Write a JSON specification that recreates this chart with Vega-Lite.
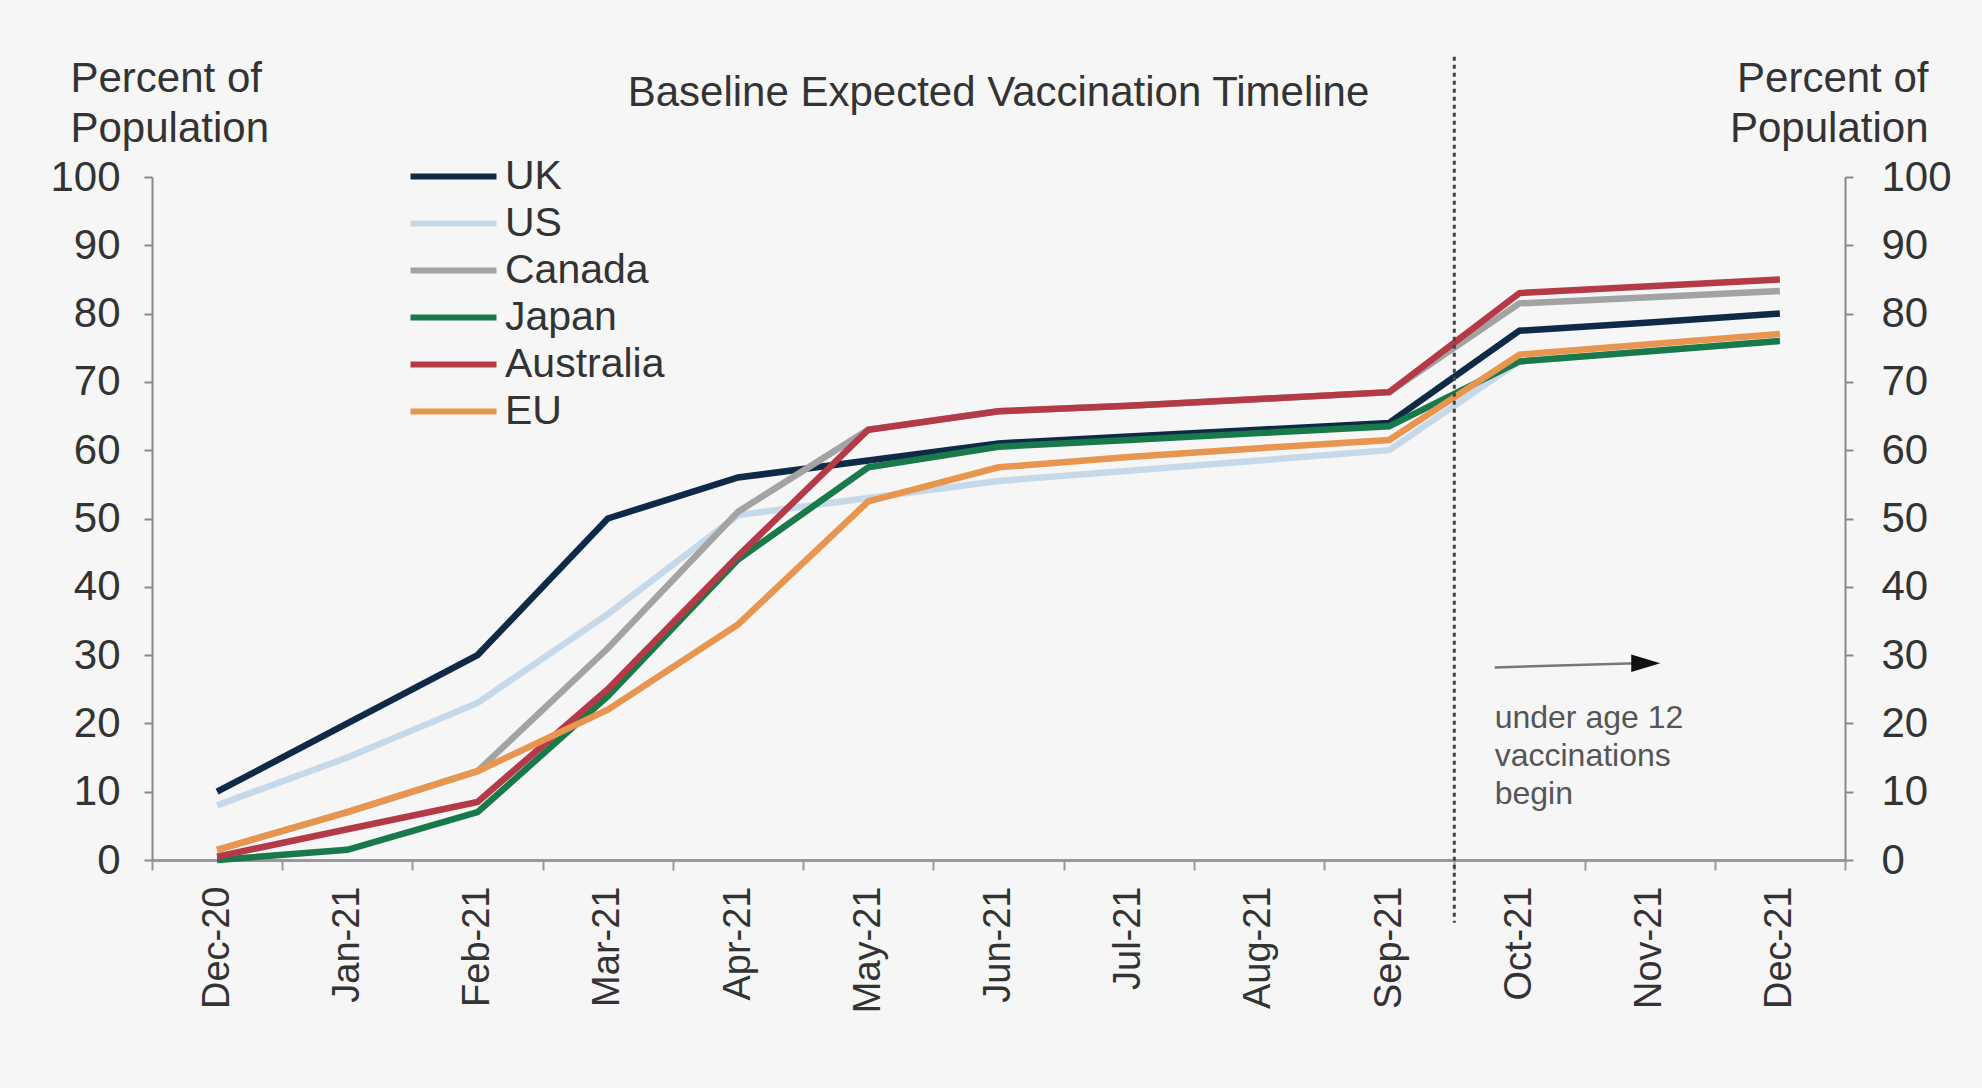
{
  "$schema": "https://vega.github.io/schema/vega-lite/v6.json",
  "width": 1693,
  "height": 683,
  "autosize": {"type": "none"},
  "padding": {"left": 152, "top": 177, "right": 137, "bottom": 228},
  "background": "#f6f6f6",
  "config": {"font": "Liberation Sans", "view": {"stroke": null}},
  "title": {
    "text": "Baseline Expected Vaccination Timeline",
    "fontSize": 42,
    "fontWeight": "normal",
    "color": "#333333",
    "anchor": "middle",
    "frame": "group",
    "offset": -60
  },
  "datasets": {
    "vaccination": [
      {"month": "Dec-20", "country": "UK", "pct": 10},
      {"month": "Jan-21", "country": "UK", "pct": 20},
      {"month": "Feb-21", "country": "UK", "pct": 30},
      {"month": "Mar-21", "country": "UK", "pct": 50},
      {"month": "Apr-21", "country": "UK", "pct": 56},
      {"month": "May-21", "country": "UK", "pct": 58.5},
      {"month": "Jun-21", "country": "UK", "pct": 61},
      {"month": "Jul-21", "country": "UK", "pct": 62},
      {"month": "Aug-21", "country": "UK", "pct": 63},
      {"month": "Sep-21", "country": "UK", "pct": 64},
      {"month": "Oct-21", "country": "UK", "pct": 77.5},
      {"month": "Nov-21", "country": "UK", "pct": 78.7},
      {"month": "Dec-21", "country": "UK", "pct": 80},
      {"month": "Dec-20", "country": "US", "pct": 8},
      {"month": "Jan-21", "country": "US", "pct": 15},
      {"month": "Feb-21", "country": "US", "pct": 23},
      {"month": "Mar-21", "country": "US", "pct": 36},
      {"month": "Apr-21", "country": "US", "pct": 50.5},
      {"month": "May-21", "country": "US", "pct": 53},
      {"month": "Jun-21", "country": "US", "pct": 55.5},
      {"month": "Jul-21", "country": "US", "pct": 57},
      {"month": "Aug-21", "country": "US", "pct": 58.5},
      {"month": "Sep-21", "country": "US", "pct": 60},
      {"month": "Oct-21", "country": "US", "pct": 73},
      {"month": "Nov-21", "country": "US", "pct": 74.5},
      {"month": "Dec-21", "country": "US", "pct": 76},
      {"month": "Dec-20", "country": "Canada", "pct": 1.5},
      {"month": "Jan-21", "country": "Canada", "pct": 7},
      {"month": "Feb-21", "country": "Canada", "pct": 13},
      {"month": "Mar-21", "country": "Canada", "pct": 31},
      {"month": "Apr-21", "country": "Canada", "pct": 51},
      {"month": "May-21", "country": "Canada", "pct": 63},
      {"month": "Jun-21", "country": "Canada", "pct": 65.7},
      {"month": "Jul-21", "country": "Canada", "pct": 66.5},
      {"month": "Aug-21", "country": "Canada", "pct": 67.5},
      {"month": "Sep-21", "country": "Canada", "pct": 68.5},
      {"month": "Oct-21", "country": "Canada", "pct": 81.5},
      {"month": "Nov-21", "country": "Canada", "pct": 82.4},
      {"month": "Dec-21", "country": "Canada", "pct": 83.3},
      {"month": "Dec-20", "country": "Japan", "pct": 0},
      {"month": "Jan-21", "country": "Japan", "pct": 1.5},
      {"month": "Feb-21", "country": "Japan", "pct": 7},
      {"month": "Mar-21", "country": "Japan", "pct": 24},
      {"month": "Apr-21", "country": "Japan", "pct": 44},
      {"month": "May-21", "country": "Japan", "pct": 57.5},
      {"month": "Jun-21", "country": "Japan", "pct": 60.5},
      {"month": "Jul-21", "country": "Japan", "pct": 61.5},
      {"month": "Aug-21", "country": "Japan", "pct": 62.5},
      {"month": "Sep-21", "country": "Japan", "pct": 63.5},
      {"month": "Oct-21", "country": "Japan", "pct": 73},
      {"month": "Nov-21", "country": "Japan", "pct": 74.5},
      {"month": "Dec-21", "country": "Japan", "pct": 76},
      {"month": "Dec-20", "country": "Australia", "pct": 0.5},
      {"month": "Jan-21", "country": "Australia", "pct": 4.5},
      {"month": "Feb-21", "country": "Australia", "pct": 8.5},
      {"month": "Mar-21", "country": "Australia", "pct": 25},
      {"month": "Apr-21", "country": "Australia", "pct": 44.5},
      {"month": "May-21", "country": "Australia", "pct": 63},
      {"month": "Jun-21", "country": "Australia", "pct": 65.7},
      {"month": "Jul-21", "country": "Australia", "pct": 66.5},
      {"month": "Aug-21", "country": "Australia", "pct": 67.5},
      {"month": "Sep-21", "country": "Australia", "pct": 68.5},
      {"month": "Oct-21", "country": "Australia", "pct": 83},
      {"month": "Nov-21", "country": "Australia", "pct": 84},
      {"month": "Dec-21", "country": "Australia", "pct": 85},
      {"month": "Dec-20", "country": "EU", "pct": 1.5},
      {"month": "Jan-21", "country": "EU", "pct": 7},
      {"month": "Feb-21", "country": "EU", "pct": 13},
      {"month": "Mar-21", "country": "EU", "pct": 22},
      {"month": "Apr-21", "country": "EU", "pct": 34.5},
      {"month": "May-21", "country": "EU", "pct": 52.5},
      {"month": "Jun-21", "country": "EU", "pct": 57.5},
      {"month": "Jul-21", "country": "EU", "pct": 59},
      {"month": "Aug-21", "country": "EU", "pct": 60.3},
      {"month": "Sep-21", "country": "EU", "pct": 61.5},
      {"month": "Oct-21", "country": "EU", "pct": 74},
      {"month": "Nov-21", "country": "EU", "pct": 75.5},
      {"month": "Dec-21", "country": "EU", "pct": 77}
    ],
    "notes": [
      {"note": "under age 12\nvaccinations\nbegin", "start": 10.31, "shaft_end": 11.4, "head": 11.47, "level": 28.2, "level_end": 28.8, "text_y": 19.3}
    ]
  },
  "layer": [
    {
      "data": {"name": "vaccination"},
      "mark": {"type": "line", "strokeWidth": 6.5},
      "encoding": {
        "x": {
          "field": "month",
          "type": "ordinal",
          "sort": null,
          "bandPosition": 0.5,
          "scale": {"type": "band", "paddingInner": 0, "paddingOuter": 0},
          "axis": {
            "title": null,
            "tickBand": "extent",
            "labelAngle": 270,
            "labelAlign": "right",
            "labelBaseline": "middle",
            "labelFontSize": 38,
            "labelColor": "#333333",
            "labelPadding": 16,
            "tickSize": 10,
            "tickColor": "#999999",
            "tickWidth": 2,
            "domainColor": "#999999",
            "domainWidth": 3,
            "grid": false
          }
        },
        "y": {
          "field": "pct",
          "type": "quantitative",
          "scale": {"domain": [0, 100], "nice": false},
          "axis": {
            "orient": "left",
            "values": [0, 10, 20, 30, 40, 50, 60, 70, 80, 90, 100],
            "grid": false,
            "tickSize": 8,
            "tickColor": "#888888",
            "tickWidth": 2,
            "domainColor": "#888888",
            "domainWidth": 2,
            "labelFontSize": 42,
            "labelColor": "#333333",
            "labelPadding": 24,
            "title": ["Percent of", "Population"],
            "titleAngle": 0,
            "titleAlign": "left",
            "titleBaseline": "alphabetic",
            "titleX": -82,
            "titleY": -86,
            "titleFontSize": 42,
            "titleFontWeight": "normal",
            "titleColor": "#333333",
            "titleLineHeight": 50
          }
        },
        "color": {
          "field": "country",
          "type": "nominal",
          "scale": {
            "domain": ["UK", "US", "Canada", "Japan", "Australia", "EU"],
            "range": ["#0e2a47", "#c6d9ea", "#a3a3a3", "#18794a", "#b43a48", "#e8954f"]
          },
          "legend": {
            "orient": "none",
            "legendX": 277,
            "legendY": -25,
            "title": null,
            "padding": 0,
            "labelFontSize": 41,
            "labelColor": "#333333",
            "symbolType": "M-2,0L2,0",
            "symbolStrokeWidth": 6,
            "symbolSize": 1849,
            "labelOffset": 27,
            "rowPadding": 2
          }
        }
      }
    },
    {
      "data": {"name": "notes"},
      "mark": {"type": "rule", "strokeDash": [4, 4], "strokeWidth": 3, "color": "#444444"},
      "encoding": {
        "x": {"datum": 10, "type": "quantitative", "scale": {"domain": [0, 13], "nice": false, "zero": false}, "axis": null},
        "y": {
          "datum": 117.6,
          "type": "quantitative",
          "scale": {"domain": [0, 100], "nice": false},
          "axis": {
            "orient": "right",
            "values": [0, 10, 20, 30, 40, 50, 60, 70, 80, 90, 100],
            "grid": false,
            "tickSize": 8,
            "tickColor": "#888888",
            "tickWidth": 2,
            "domainColor": "#888888",
            "domainWidth": 2,
            "labelFontSize": 42,
            "labelColor": "#333333",
            "labelPadding": 28,
            "title": ["Percent of", "Population"],
            "titleAngle": 0,
            "titleAlign": "right",
            "titleBaseline": "alphabetic",
            "titleX": 83,
            "titleY": -86,
            "titleFontSize": 42,
            "titleFontWeight": "normal",
            "titleColor": "#333333",
            "titleLineHeight": 50
          }
        },
        "y2": {"datum": -9.2}
      }
    },
    {
      "data": {"name": "notes"},
      "mark": {"type": "rule", "strokeWidth": 2.5, "color": "#777777"},
      "encoding": {
        "x": {"field": "start", "type": "quantitative", "scale": {"domain": [0, 13], "nice": false, "zero": false}, "axis": null},
        "x2": {"field": "shaft_end"},
        "y": {"field": "level", "type": "quantitative", "scale": {"domain": [0, 100], "nice": false}, "axis": null},
        "y2": {"field": "level_end"}
      }
    },
    {
      "data": {"name": "notes"},
      "mark": {"type": "point", "shape": "M-1,-0.6L1,0L-1,0.6Z", "filled": true, "opacity": 1, "color": "#111111", "size": 841},
      "encoding": {
        "x": {"field": "head", "type": "quantitative", "scale": {"domain": [0, 13], "nice": false, "zero": false}, "axis": null},
        "y": {"field": "level_end", "type": "quantitative", "scale": {"domain": [0, 100], "nice": false}, "axis": null}
      }
    },
    {
      "data": {"name": "notes"},
      "mark": {"type": "text", "align": "left", "baseline": "alphabetic", "fontSize": 32, "lineHeight": 38, "lineBreak": "\n", "color": "#555555"},
      "encoding": {
        "x": {"field": "start", "type": "quantitative", "scale": {"domain": [0, 13], "nice": false, "zero": false}, "axis": null},
        "y": {"field": "text_y", "type": "quantitative", "scale": {"domain": [0, 100], "nice": false}, "axis": null},
        "text": {"field": "note"}
      }
    }
  ],
  "resolve": {"scale": {"x": "independent"}, "axis": {"x": "independent", "y": "independent"}}
}
